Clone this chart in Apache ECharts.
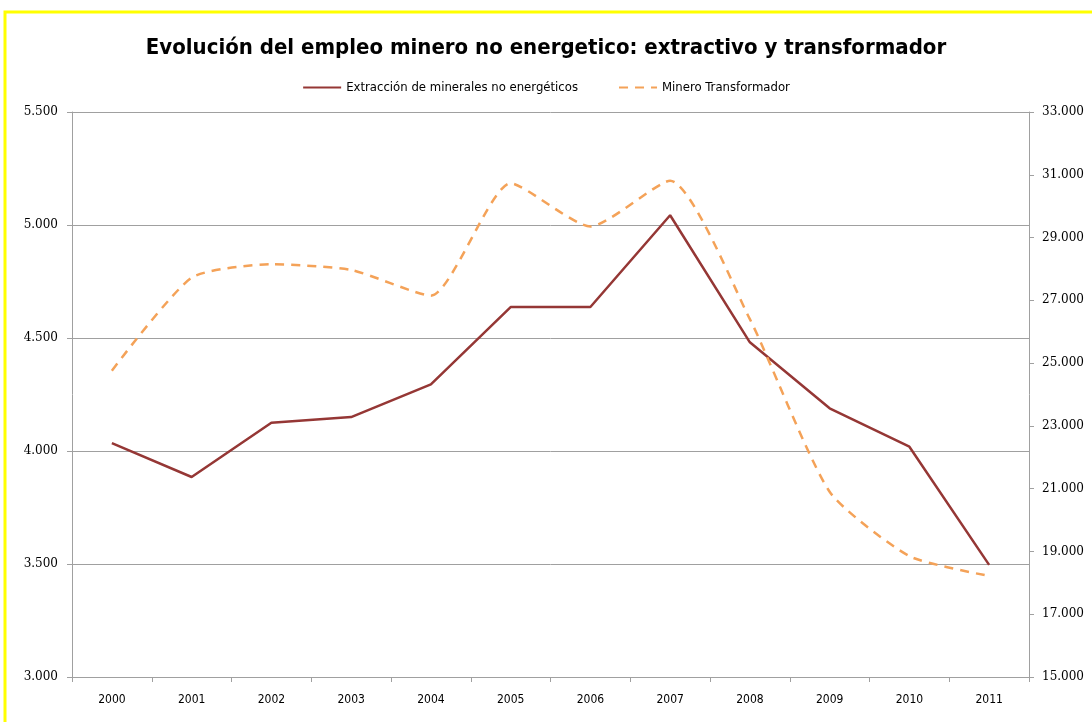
<!DOCTYPE html>
<html>
<head>
<meta charset="utf-8">
<script src="https://cdn.jsdelivr.net/npm/echarts@6/dist/echarts.min.js"></script>
<style>
  html, body { margin: 0; padding: 0; background: #fff; }
  #chart { width: 1092px; height: 722px; }
</style>
</head>
<body>
<div id="chart"></div>
<script>
// años
var years = ['2000', '2001', '2002', '2003', '2004', '2005', '2006', '2007', '2008', '2009', '2010', '2011'];
// eje izquierdo
var extraccion = [4035, 3885, 4125, 4150, 4295, 4637, 4637, 5043, 4481, 4189, 4019, 3496];
// eje derecho
var transformador = [24760, 27720, 28150, 27970, 27150, 30730, 29350, 30810, 26400, 20900, 18850, 18220];

var leftMin = 3000, leftMax = 5500, leftStep = 500;
var rightMin = 15000, rightMax = 33000, rightStep = 2000;

var narrow = '"DejaVu Sans Condensed", "Liberation Sans", sans-serif';

function miles(v) {
  return String(v).replace(/\B(?=(\d{3})+(?!\d))/g, '.');
}

var myChart = echarts.init(document.getElementById('chart'));
var option = {
  animation: false,
  backgroundColor: '#fff',
  graphic: [{
    type: 'rect',
    shape: { x: 5, y: 12, width: 1100, height: 720 },
    style: { fill: 'none', stroke: '#ffff00', lineWidth: 3 }
  }],
  title: {
    text: 'Evolución del empleo minero no energetico: extractivo y transformador',
    left: 'center',
    top: 32,
    textStyle: {
      fontFamily: narrow,
      fontSize: 22,
      fontWeight: 'bold',
      color: '#000'
    }
  },
  legend: {
    top: 76,
    left: 'center',
    itemWidth: 38,
    itemHeight: 10,
    itemGap: 40,
    itemStyle: { opacity: 0 },
    textStyle: { fontFamily: narrow, fontSize: 13, color: '#000' },
    data: ['Extracción de minerales no energéticos', 'Minero Transformador']
  },
  grid: { left: 72, right: 63, top: 112, bottom: 45 },
  xAxis: {
    type: 'category',
    data: years,
    boundaryGap: true,
    axisLine: { lineStyle: { color: '#a0a0a0' } },
    axisTick: { show: true, length: 5, lineStyle: { color: '#a0a0a0' } },
    axisLabel: { margin: 17, fontFamily: narrow, fontSize: 12, color: '#000' }
  },
  yAxis: [{
    type: 'value',
    min: leftMin,
    max: leftMax,
    interval: leftStep,
    axisLine: { show: true, lineStyle: { color: '#a0a0a0' } },
    axisTick: { show: true, length: 5, lineStyle: { color: '#a0a0a0' } },
    splitLine: { lineStyle: { color: '#a0a0a0' } },
    axisLabel: { margin: 14, fontFamily: 'DejaVu Serif', fontSize: 12, color: '#000', formatter: miles }
  }, {
    type: 'value',
    position: 'right',
    min: rightMin,
    max: rightMax,
    interval: rightStep,
    axisLine: { show: true, lineStyle: { color: '#a0a0a0' } },
    axisTick: { show: true, length: 5, lineStyle: { color: '#a0a0a0' } },
    splitLine: { show: false },
    axisLabel: { margin: 13, fontFamily: 'DejaVu Serif', fontSize: 12, color: '#000', formatter: miles }
  }],
  series: [{
    name: 'Extracción de minerales no energéticos',
    type: 'line',
    yAxisIndex: 0,
    data: extraccion,
    symbol: 'none',
    itemStyle: { color: '#953735' },
    lineStyle: { color: '#953735', width: 2.5 }
  }, {
    name: 'Minero Transformador',
    type: 'line',
    yAxisIndex: 1,
    data: transformador,
    symbol: 'none',
    smooth: 0.2,
    itemStyle: { color: '#f4a258' },
    lineStyle: { color: '#f4a258', width: 2.5, type: [9, 7] }
  }]
};
myChart.setOption(option);
</script>
</body>
</html>
